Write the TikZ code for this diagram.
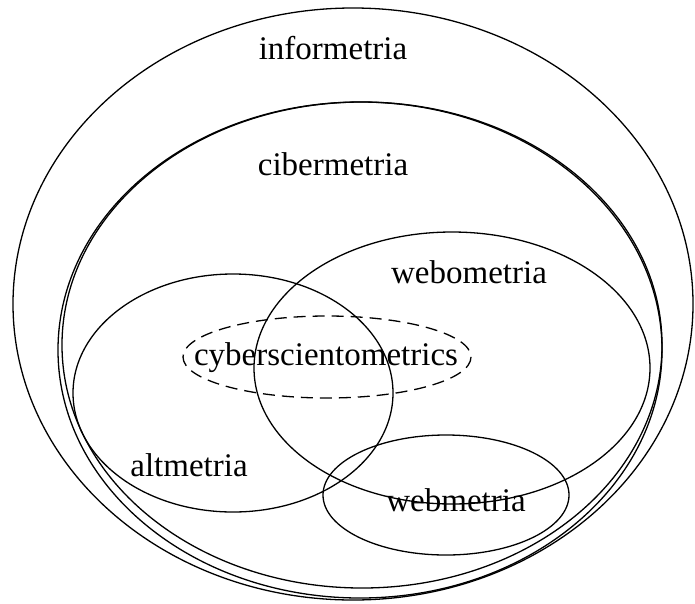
\documentclass[tikz,border=0pt]{standalone}
\usepackage{fontspec}
\setmainfont{Liberation Serif}
\begin{document}
\begin{tikzpicture}[x=1pt,y=-1pt,
		area/.style={line width=1.3},
		lbl/.style={font=\fontsize{33}{38}\selectfont,inner sep=0pt}]
		\useasboundingbox (0,0) rectangle (695,603);
		\coordinate (INF) at (353,304);
		\coordinate (CIB) at (360,350);
		\coordinate (CIBB) at (362,345);
		\coordinate (WEBO) at (452,368);
		\coordinate (ALT) at (233,393);
		\coordinate (CYB) at (327,357);
		\coordinate (WEBM) at (446,495);
		\draw [area] (INF) ellipse [x radius=340,y radius=296];
		\draw [area] (CIB) ellipse [x radius=302,y radius=248];
		\draw [area] (CIBB) ellipse [x radius=300,y radius=243];
		\draw [area] (WEBO) ellipse [x radius=198,y radius=136];
		\draw [area] (ALT) ellipse [x radius=160,y radius=119];
		\draw [area,dash pattern=on 12 off 7] (CYB) ellipse [x radius=144,y radius=41];
		\draw [area] (WEBM) ellipse [x radius=123,y radius=60];
		\node [lbl] (inf) at (333,48) {informetria};
		\node [lbl] (cib) at (333,164) {cibermetria};
		\node [lbl] (webo) at (469,272) {webometria};
		\node [lbl] (cyb) at (326,358) {cyberscientometrics};
		\node [lbl] (alt) at (189,465) {altmetria};
		\node [lbl] (webm) at (456,500) {webmetria};
	\end{tikzpicture}
\end{document}
